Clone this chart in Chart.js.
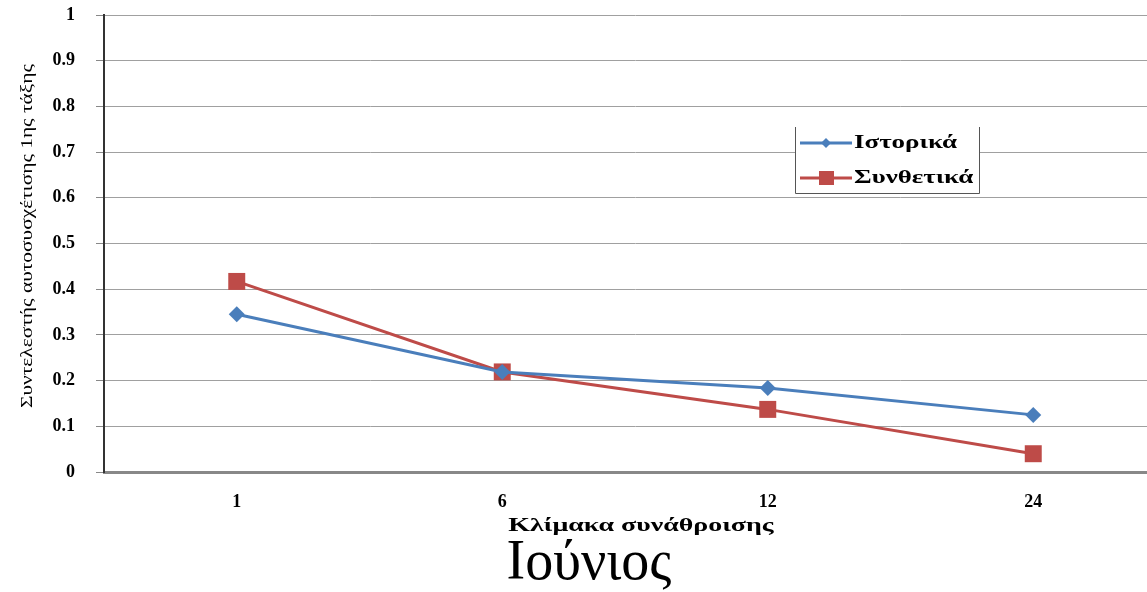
<!DOCTYPE html>
<html>
<head>
<meta charset="utf-8">
<script src="https://cdn.jsdelivr.net/npm/chart.js@4"></script>
<style>
  html, body { margin: 0; padding: 0; background: #fff; overflow: hidden; }
  #wrap { width: 1147px; height: 592px; overflow: hidden; }
</style>
</head>
<body>
<div id="wrap"><canvas id="c" width="1178" height="592"></canvas></div>
<script>
// aggregation scales (x) and lag-1 autocorrelation values
var scales = ['1', '6', '12', '24'];
var istorika = [0.345, 0.219, 0.184, 0.125];
var synthetika = [0.417, 0.219, 0.137, 0.04];
var yTicks = [0, 0.1, 0.2, 0.3, 0.4, 0.5, 0.6, 0.7, 0.8, 0.9, 1];

var serif = "'Liberation Serif', 'DejaVu Serif', serif";

// the original picture has its text stretched sideways, so some text is drawn by hand
function wideText(ctx, text, x, y, font, sx, rot) {
  ctx.save();
  ctx.translate(x, y);
  if (rot) ctx.rotate(rot);
  ctx.scale(sx, 1);
  ctx.font = font;
  ctx.fillStyle = '#000';
  ctx.textAlign = 'center';
  ctx.textBaseline = 'middle';
  ctx.fillText(text, 0, 0);
  ctx.restore();
}

var extras = {
  id: 'extras',
  afterDraw: function(chart) {
    var ctx = chart.ctx;
    var area = chart.chartArea;

    // axis titles
    wideText(ctx, 'Συντελεστής αυτοσυσχέτισης 1ης τάξης', 28, 236,
      'normal 17px ' + serif, 1.26, -Math.PI / 2);
    wideText(ctx, 'Κλίμακα συνάθροισης', (area.left + area.right) / 2 + 6, 526,
      'bold 18px ' + serif, 1.55, 0);

    // legend box
    var x0 = 795, y0 = 127, w = 184, h = 66;
    ctx.save();
    ctx.fillStyle = '#fff';
    ctx.fillRect(x0, y0, w, h);
    ctx.strokeStyle = '#555';
    ctx.lineWidth = 1;
    ctx.beginPath();
    ctx.moveTo(x0 + 0.5, y0);
    ctx.lineTo(x0 + 0.5, y0 + h + 0.5);
    ctx.lineTo(x0 + w + 0.5, y0 + h + 0.5);
    ctx.lineTo(x0 + w + 0.5, y0);
    ctx.stroke();
    chart.data.datasets.forEach(function(ds, i) {
      var y = 143 + i * 35;
      ctx.strokeStyle = ds.borderColor;
      ctx.lineWidth = 3;
      ctx.beginPath();
      ctx.moveTo(x0 + 5, y);
      ctx.lineTo(x0 + 57, y);
      ctx.stroke();
      ctx.fillStyle = ds.backgroundColor;
      if (ds.pointStyle === 'rect') {
        ctx.fillRect(x0 + 24, y - 7, 15, 14);
      } else {
        ctx.beginPath();
        ctx.moveTo(x0 + 31, y - 5);
        ctx.lineTo(x0 + 36, y);
        ctx.lineTo(x0 + 31, y + 5);
        ctx.lineTo(x0 + 26, y);
        ctx.closePath();
        ctx.fill();
      }
      ctx.save();
      ctx.translate(x0 + 59, y);
      ctx.scale(1.42, 1);
      ctx.font = 'bold 19px ' + serif;
      ctx.fillStyle = '#000';
      ctx.textBaseline = 'middle';
      ctx.fillText(ds.label, 0, 0);
      ctx.restore();
    });
    ctx.restore();
  }
};

new Chart(document.getElementById('c').getContext('2d'), {
  type: 'line',
  data: {
    labels: scales,
    datasets: [{
      label: 'Ιστορικά',
      data: istorika,
      borderColor: '#4a7ebb',
      backgroundColor: '#4a7ebb',
      borderWidth: 3,
      pointStyle: 'rectRot',
      pointRadius: 8,
      pointBorderWidth: 0,
      tension: 0
    }, {
      label: 'Συνθετικά',
      data: synthetika,
      borderColor: '#be4b48',
      backgroundColor: '#be4b48',
      borderWidth: 3,
      pointStyle: 'rect',
      pointRadius: 12,
      pointBorderWidth: 0,
      tension: 0
    }]
  },
  options: {
    responsive: false,
    animation: false,
    layout: { padding: 0 },
    plugins: {
      legend: { display: false },
      tooltip: { enabled: false },
      title: {
        display: true,
        position: 'bottom',
        text: 'Ιούνιος',
        color: '#000',
        font: { family: serif, size: 56, weight: 'normal', lineHeight: 1 },
        padding: 0
      }
    },
    scales: {
      x: {
        offset: true,
        grid: { display: false, drawTicks: false },
        border: { display: true, color: '#888', width: 3 },
        ticks: { color: '#000', padding: 20, font: { family: serif, size: 18, weight: 'bold' } },
        afterFit: function(s) { s.height = 64; }
      },
      y: {
        min: 0,
        max: 1,
        afterBuildTicks: function(s) {
          s.ticks = yTicks.map(function(v) { return { value: v }; });
        },
        grid: { color: '#a0a0a0', lineWidth: 1, drawTicks: true, tickLength: 8, tickColor: '#888' },
        border: { display: true, color: '#333', width: 2 },
        ticks: {
          color: '#000',
          padding: 21,
          font: { family: serif, size: 18, weight: 'bold' },
          callback: function(v) { return String(Math.round(v * 10) / 10); }
        },
        afterFit: function(s) {
          s.width = 104;
          s.paddingTop = 15;
        }
      }
    }
  },
  plugins: [extras]
});
</script>
</body>
</html>
